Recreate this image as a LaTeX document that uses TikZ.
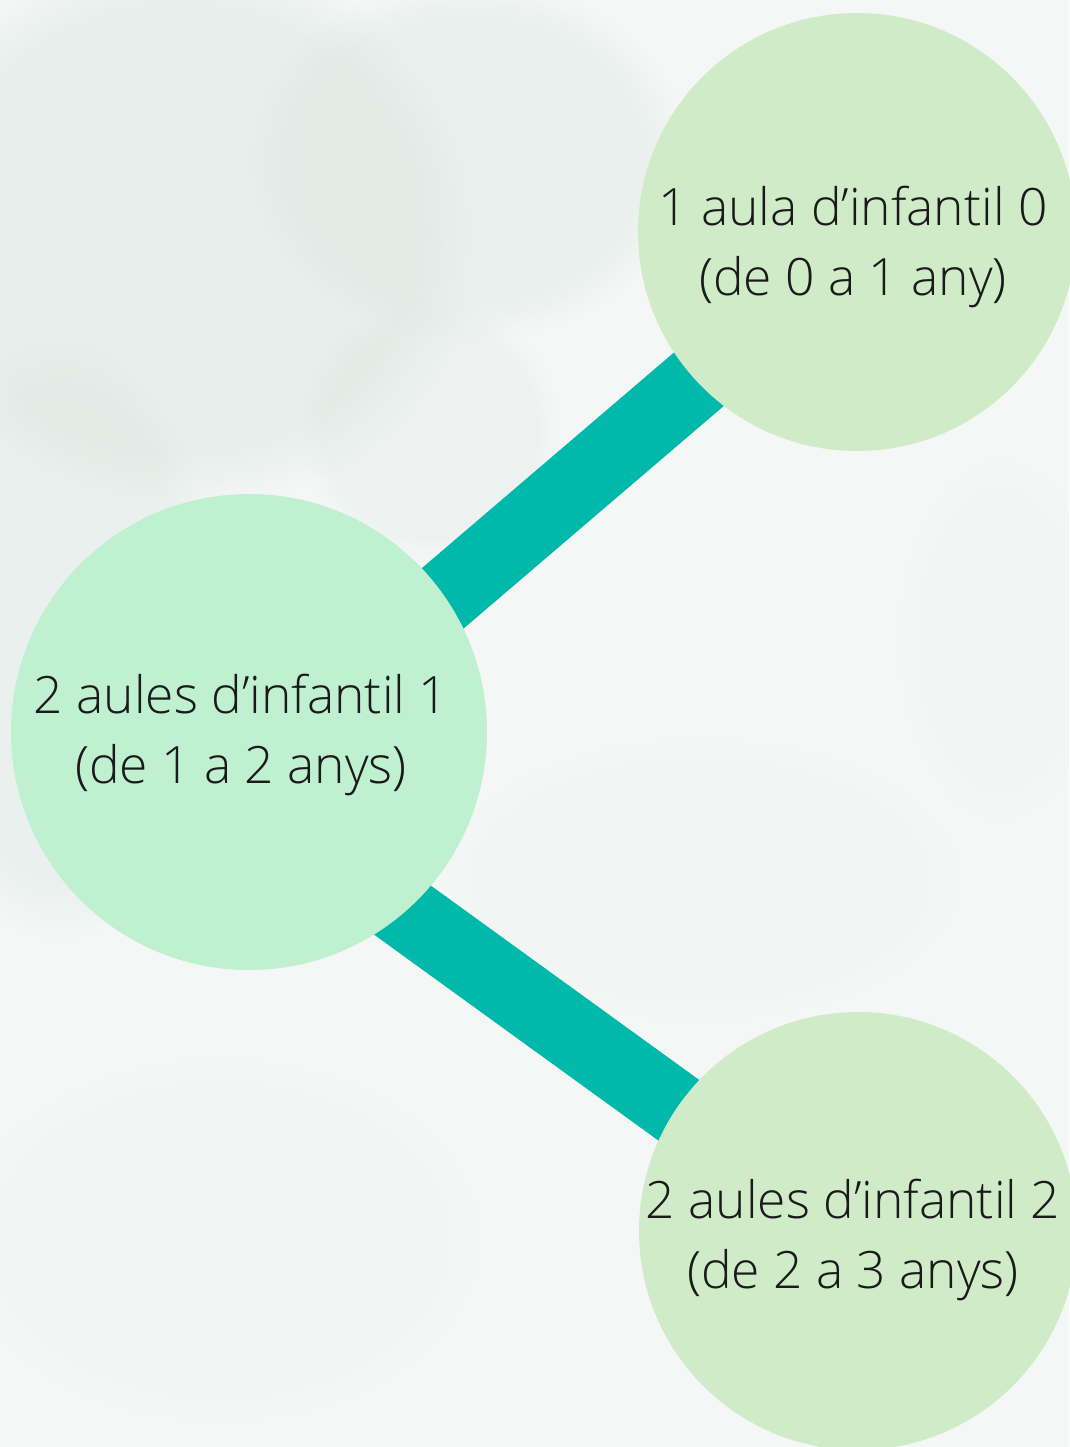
\documentclass[tikz,border=0pt]{standalone}
\usepackage{fontspec}
\setmainfont{Open Sans Light}
\usetikzlibrary{fadings}
\definecolor{paper}{HTML}{F4F7F6}
\definecolor{stain}{HTML}{D9E5DF}
\definecolor{tealband}{HTML}{00B9AA}
\definecolor{leafA}{HTML}{D0EBC8}
\definecolor{mintB}{HTML}{BFF0D0}
\definecolor{ink}{HTML}{1A1A1A}
\pgfdeclarelayer{paperlayer}
\pgfdeclarelayer{linklayer}
\pgfsetlayers{paperlayer,linklayer,main}
\tikzset{
  bubble/.style={circle, inner sep=0pt, draw=none, minimum size=#1},
  label text/.style={font=\fontsize{51.5}{70}\selectfont, text=ink, align=center, inner sep=0pt},
  band/.style={draw=tealband, line width=73pt, line cap=butt},
  blob/.style={fill=stain, path fading=circle with fuzzy edge 20 percent}
}
\begin{document}
\begin{tikzpicture}[x=1pt,y=-1pt]
\useasboundingbox (0,0) rectangle (1069,1447);
\begin{pgfonlayer}{paperlayer}
  \clip (0,0) rectangle (1069,1447);
  \fill[paper] (0,0) rectangle (1069,1447);
  \fill[blob, opacity=0.45] (180,230) ellipse [x radius=300, y radius=280];
  \fill[blob, opacity=0.35] (470,160) ellipse [x radius=220, y radius=180];
  \fill[blob, opacity=0.35] (60,640) ellipse [x radius=160, y radius=300];
  \fill[blob, opacity=0.25] (430,430) ellipse [x radius=130, y radius=130];
  \fill[blob, opacity=0.10] (700,880) ellipse [x radius=260, y radius=140];
  \fill[blob, opacity=0.10] (220,1240) ellipse [x radius=260, y radius=180];
  \fill[blob, opacity=0.08] (1000,640) ellipse [x radius=100, y radius=180];
\end{pgfonlayer}

\node[bubble=438pt, fill=leafA] (top) at (857,232) {};
\node[bubble=476pt, fill=mintB] (mid) at (249,732) {};
\node[bubble=438pt, fill=leafA] (bot) at (858,1231) {};

\begin{pgfonlayer}{linklayer}
  \draw[band] ([yshift=-32pt]mid.center) -- ([yshift=-12pt]top.center);
  \draw[band] ([yshift=-67pt]mid.center) -- ([yshift=-9pt]bot.center);
\end{pgfonlayer}

\node[label text] (ttop) at (853,247) {1 aula d’infantil 0\\(de 0 a 1 any)};
\node[label text] (tmid) at (241,735) {2 aules d’infantil 1\\(de 1 a 2 anys)};
\node[label text] (tbot) at (853,1240) {2 aules d’infantil 2\\(de 2 a 3 anys)};
\end{tikzpicture}
\end{document}
